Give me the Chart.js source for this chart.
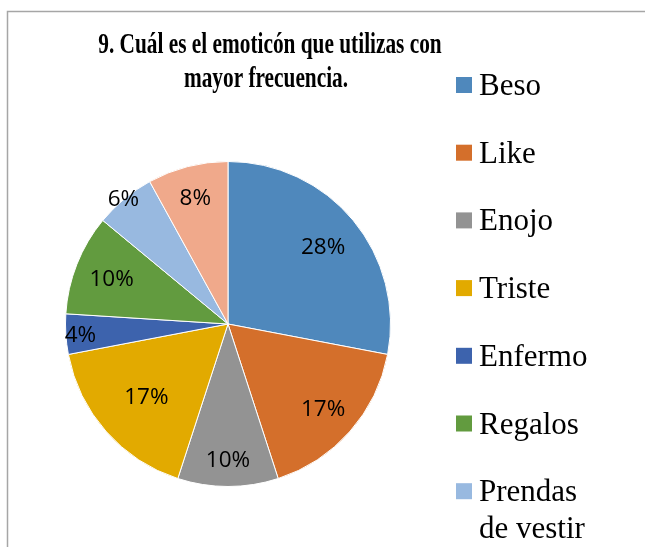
<!DOCTYPE html>
<html>
<head>
<meta charset="utf-8">
<script src="https://cdn.jsdelivr.net/npm/chart.js@4"></script>
<style>
  html, body { margin: 0; padding: 0; background: #fff; overflow: hidden; }
  canvas { display: block; }
</style>
</head>
<body>
<canvas id="pie" width="645" height="547"></canvas>
<script>
// data
const titleLines = ['9. Cuál es el emoticón que utilizas con', 'mayor frecuencia.'];
const labels = ['Beso', 'Like', 'Enojo', 'Triste', 'Enfermo', 'Regalos', 'Prendas de vestir', 'Otros'];
const values = [28, 17, 10, 17, 4, 10, 6, 8];
const colors = ['#4f88bc', '#d46f2b', '#939393', '#e2aa00', '#3d63ad', '#629b3f', '#98b9e0', '#f0a98b'];
// how far out each percentage sits (fraction of radius), like Excel's best fit
const labelRadius = [0.76, 0.78, 0.83, 0.67, 0.91, 0.77, 1.01, 0.81];

const frame = {
    id: 'frame',
    beforeDraw(chart) {
        const ctx = chart.ctx;
        ctx.save();
        ctx.fillStyle = '#fff';
        ctx.fillRect(0, 0, chart.width, chart.height);
        ctx.strokeStyle = '#a6a6a6';
        ctx.lineWidth = 1.5;
        ctx.strokeRect(7.5, 11.5, 700, 700);
        ctx.restore();
    }
};

const titleText = {
    id: 'titleText',
    afterDraw(chart) {
        const ctx = chart.ctx;
        ctx.save();
        ctx.fillStyle = '#000';
        ctx.font = 'bold 29px "Liberation Serif"';
        ctx.textAlign = 'center';
        ctx.textBaseline = 'alphabetic';
        const centers = [[270, 53], [266, 87]];
        titleLines.forEach((line, i) => {
            ctx.save();
            ctx.translate(centers[i][0], centers[i][1]);
            ctx.scale(0.735, 1); // title is drawn narrow in the original
            ctx.fillText(line, 0, 0);
            ctx.restore();
        });
        ctx.restore();
    }
};

const sideLegend = {
    id: 'sideLegend',
    afterDraw(chart) {
        const ctx = chart.ctx;
        ctx.save();
        ctx.font = '31px "Liberation Serif"';
        ctx.textBaseline = 'alphabetic';
        ctx.fillStyle = '#000';
        let y = 85; // center of first box
        chart.data.labels.forEach((lab, i) => {
            ctx.fillStyle = colors[i];
            ctx.fillRect(456, y - 8, 16, 16);
            ctx.fillStyle = '#000';
            // wrap long labels
            const words = lab.split(' ');
            const lines = [];
            let cur = '';
            words.forEach(w => {
                const t = cur ? cur + ' ' + w : w;
                if (cur && ctx.measureText(t).width > 125) { lines.push(cur); cur = w; }
                else cur = t;
            });
            lines.push(cur);
            lines.forEach((ln, k) => ctx.fillText(ln, 479, y + 10 + k * 37));
            y += 67.7 + (lines.length - 1) * 37;
        });
        ctx.restore();
    }
};

const pctLabels = {
    id: 'pctLabels',
    afterDatasetsDraw(chart) {
        const ctx = chart.ctx;
        const meta = chart.getDatasetMeta(0);
        ctx.save();
        ctx.font = '22.5px "Open Sans"';
        ctx.fillStyle = '#000';
        ctx.textAlign = 'center';
        ctx.textBaseline = 'middle';
        meta.data.forEach((arc, i) => {
            const p = arc.getProps(['x', 'y', 'startAngle', 'endAngle', 'outerRadius'], true);
            const mid = (p.startAngle + p.endAngle) / 2;
            const r = p.outerRadius * labelRadius[i];
            ctx.fillText(values[i] + '%', p.x + Math.cos(mid) * r, p.y + Math.sin(mid) * r + 2);
        });
        ctx.restore();
    }
};

new Chart(document.getElementById('pie').getContext('2d'), {
    type: 'pie',
    data: {
        labels: labels,
        datasets: [{
            data: values,
            backgroundColor: colors,
            borderColor: '#ffffff',
            borderWidth: 1,
            hoverOffset: 0,
            offset: 0
        }]
    },
    options: {
        responsive: false,
        animation: false,
        events: [],
        layout: { padding: { left: 65, right: 254, top: 161, bottom: 60 } },
        plugins: {
            legend: { display: false },
            title: { display: false },
            tooltip: { enabled: false }
        }
    },
    plugins: [frame, pctLabels, titleText, sideLegend]
});
</script>
</body>
</html>
